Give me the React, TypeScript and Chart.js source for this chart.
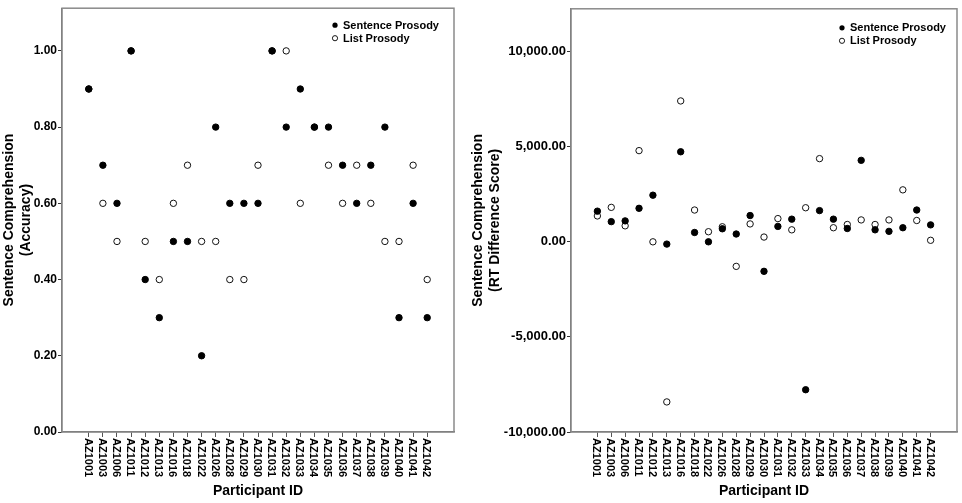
import React, { useEffect, useRef } from 'react';
import { Chart, registerables } from 'chart.js';

Chart.register(...registerables);

const participants = [
  'AZ1001', 'AZ1003', 'AZ1006', 'AZ1011', 'AZ1012', 'AZ1013', 'AZ1016', 'AZ1018', 'AZ1022',
  'AZ1026', 'AZ1028', 'AZ1029', 'AZ1030', 'AZ1031', 'AZ1032', 'AZ1033', 'AZ1034', 'AZ1035',
  'AZ1036', 'AZ1037', 'AZ1038', 'AZ1039', 'AZ1040', 'AZ1041', 'AZ1042',
];

const accSentence = [0.9, 0.7, 0.6, 1.0, 0.4, 0.3, 0.5, 0.5, 0.2, 0.8, 0.6, 0.6, 0.6, 1.0, 0.8, 0.9, 0.8, 0.8, 0.7, 0.6, 0.7, 0.8, 0.3, 0.6, 0.3];
const accList = [0.9, 0.6, 0.5, 1.0, 0.5, 0.4, 0.6, 0.7, 0.5, 0.5, 0.4, 0.4, 0.7, 1.0, 1.0, 0.6, 0.8, 0.7, 0.6, 0.7, 0.6, 0.5, 0.5, 0.7, 0.4];

const rtSentence = [1600, 1050, 1090, 1750, 2440, -130, 4720, 480, -10, 675, 400, 1370, -1560, 800, 1180, -7780, 1630, 1180, 690, 4270, 620, 540, 730, 1660, 880];
const rtList = [1350, 1800, 830, 4780, -10, -8420, 7390, 1660, 520, 780, -1300, 930, 240, 1210, 620, 1780, 4360, 730, 900, 1140, 900, 1140, 2720, 1110, 70];

const accTicks = [0, 0.2, 0.4, 0.6, 0.8, 1.0];
const rtTicks = [-10000, -5000, 0, 5000, 10000];

const legendLabels = ['Sentence Prosody', 'List Prosody'];
const xTitle = 'Participant ID';
const accTitle = ['Sentence Comprehension', '(Accuracy)'];
const rtTitle = ['Sentence Comprehension', '(RT Difference Score)'];

const FONT = '"Liberation Sans", Arial, Helvetica, sans-serif';

type PanelProps = {
  sentence: number[];
  list: number[];
  yTicks: number[];
  yMin: number;
  yMax: number;
  yTitle: string[];
  yWidth: number;
  padRight: number;
  tickFontSize: number;
  fmt: (v: number) => string;
  legendDx: number;
  legendDy: number;
  width: number;
  height: number;
};

function Panel(props: PanelProps) {
  const ref = useRef<HTMLCanvasElement | null>(null);
  useEffect(() => {
    const canvas = ref.current;
    if (!canvas) return;
    const p = props;

    const framePlugin = {
      id: 'frame',
      beforeDatasetsDraw(chart: any) {
        const { ctx, chartArea } = chart;
        ctx.save();
        ctx.strokeStyle = '#8a8a8a';
        ctx.lineWidth = 1.5;
        ctx.strokeRect(chartArea.left, chartArea.top, chartArea.right - chartArea.left, chartArea.bottom - chartArea.top);
        ctx.restore();
      },
    };

    const labelPlugin = {
      id: 'xlabels',
      afterDraw(chart: any) {
        const { ctx, chartArea } = chart;
        const xs = chart.scales.x;
        ctx.save();
        ctx.font = `bold 11px ${FONT}`;
        ctx.fillStyle = '#000';
        ctx.textAlign = 'left';
        ctx.textBaseline = 'middle';
        participants.forEach((name, i) => {
          const x = xs.getPixelForValue(i);
          ctx.save();
          ctx.translate(x - 1, chartArea.bottom + 6);
          ctx.rotate(Math.PI / 2);
          ctx.fillText(name, 0, 0);
          ctx.restore();
        });
        ctx.restore();
      },
    };

    const legendPlugin = {
      id: 'customLegend',
      afterDraw(chart: any) {
        const { ctx, chartArea } = chart;
        const mx = chartArea.right - p.legendDx;
        const y0 = chartArea.top + p.legendDy;
        ctx.save();
        ctx.font = `bold 11px ${FONT}`;
        ctx.textAlign = 'left';
        ctx.textBaseline = 'middle';
        legendLabels.forEach((label, i) => {
          const y = y0 + i * 13;
          ctx.beginPath();
          ctx.arc(mx, y, 2.6, 0, Math.PI * 2);
          if (i === 0) {
            ctx.fillStyle = '#000';
            ctx.fill();
          } else {
            ctx.fillStyle = '#fff';
            ctx.fill();
            ctx.strokeStyle = '#000';
            ctx.lineWidth = 0.9;
            ctx.stroke();
          }
          ctx.fillStyle = '#000';
          ctx.fillText(label, mx + 8, y + 0.5);
        });
        ctx.restore();
      },
    };

    const chart = new Chart(canvas, {
      type: 'scatter',
      data: {
        datasets: [
          {
            label: legendLabels[0],
            data: p.sentence.map((v, i) => ({ x: i, y: v })),
            pointRadius: 3.2,
            pointBorderWidth: 1,
            pointBackgroundColor: '#000',
            pointBorderColor: '#000',
          },
          {
            label: legendLabels[1],
            data: p.list.map((v, i) => ({ x: i, y: v })),
            pointRadius: 3.2,
            pointBorderWidth: 1,
            pointBackgroundColor: '#fff',
            pointBorderColor: '#111',
          },
        ],
      },
      options: {
        responsive: false,
        animation: false,
        devicePixelRatio: 1,
        layout: { padding: { top: 4, right: p.padRight, bottom: 0, left: 0 } },
        plugins: { legend: { display: false }, tooltip: { enabled: false } },
        scales: {
          x: {
            type: 'linear',
            min: -1.9,
            max: participants.length - 1 + 1.9,
            afterBuildTicks: (scale: any) => {
              scale.ticks = participants.map((_, i) => ({ value: i }));
            },
            afterFit: (scale: any) => {
              scale.height = 71;
            },
            ticks: { display: false },
            grid: { display: true, drawOnChartArea: false, drawTicks: true, tickLength: 5, color: '#555', lineWidth: 1 },
            border: { display: true, color: '#666', width: 1.2 },
            title: {
              display: true,
              text: xTitle,
              color: '#000',
              font: { family: FONT, size: 14, weight: 'bold' },
              padding: { top: 0, bottom: 3 },
            },
          },
          y: {
            type: 'linear',
            min: p.yMin,
            max: p.yMax,
            afterBuildTicks: (scale: any) => {
              scale.ticks = p.yTicks.map((v) => ({ value: v }));
            },
            afterFit: (scale: any) => {
              scale.width = p.yWidth;
            },
            ticks: {
              color: '#000',
              padding: 1,
              font: { family: FONT, size: p.tickFontSize, weight: 'bold' },
              callback: (v: any) => p.fmt(Number(v)),
            },
            grid: { display: true, drawOnChartArea: false, drawTicks: true, tickLength: 4, color: '#333', lineWidth: 1 },
            border: { display: true, color: '#666', width: 1.2 },
            title: {
              display: true,
              text: p.yTitle,
              color: '#000',
              font: { family: FONT, size: 14, weight: 'bold' },
              padding: { top: 1, bottom: 0 },
            },
          },
        },
      },
      plugins: [framePlugin, labelPlugin, legendPlugin],
    } as any);
    return () => chart.destroy();
  }, []);
  return (
    <canvas
      ref={ref}
      width={props.width}
      height={props.height}
      style={{ width: props.width, height: props.height, display: 'block' }}
    />
  );
}

const fmtAcc = (v: number) => v.toFixed(2);
const fmtRt = (v: number) =>
  v.toLocaleString('en-US', { minimumFractionDigits: 2, maximumFractionDigits: 2 });

export default function App() {
  return (
    <div style={{ position: 'absolute', left: 0, top: 0, width: 962, height: 503, background: '#fff', display: 'flex' }}>
      <Panel
        sentence={accSentence}
        list={accList}
        yTicks={accTicks}
        yMin={0}
        yMax={1.112}
        yTitle={accTitle}
        yWidth={62}
        padRight={15}
        tickFontSize={12}
        fmt={fmtAcc}
        legendDx={119}
        legendDy={17}
        width={469}
        height={503}
      />
      <Panel
        sentence={rtSentence}
        list={rtList}
        yTicks={rtTicks}
        yMin={-10000}
        yMax={12230}
        yTitle={rtTitle}
        yWidth={102}
        padRight={5}
        tickFontSize={13}
        fmt={fmtRt}
        legendDx={115}
        legendDy={19}
        width={493}
        height={503}
      />
    </div>
  );
}
